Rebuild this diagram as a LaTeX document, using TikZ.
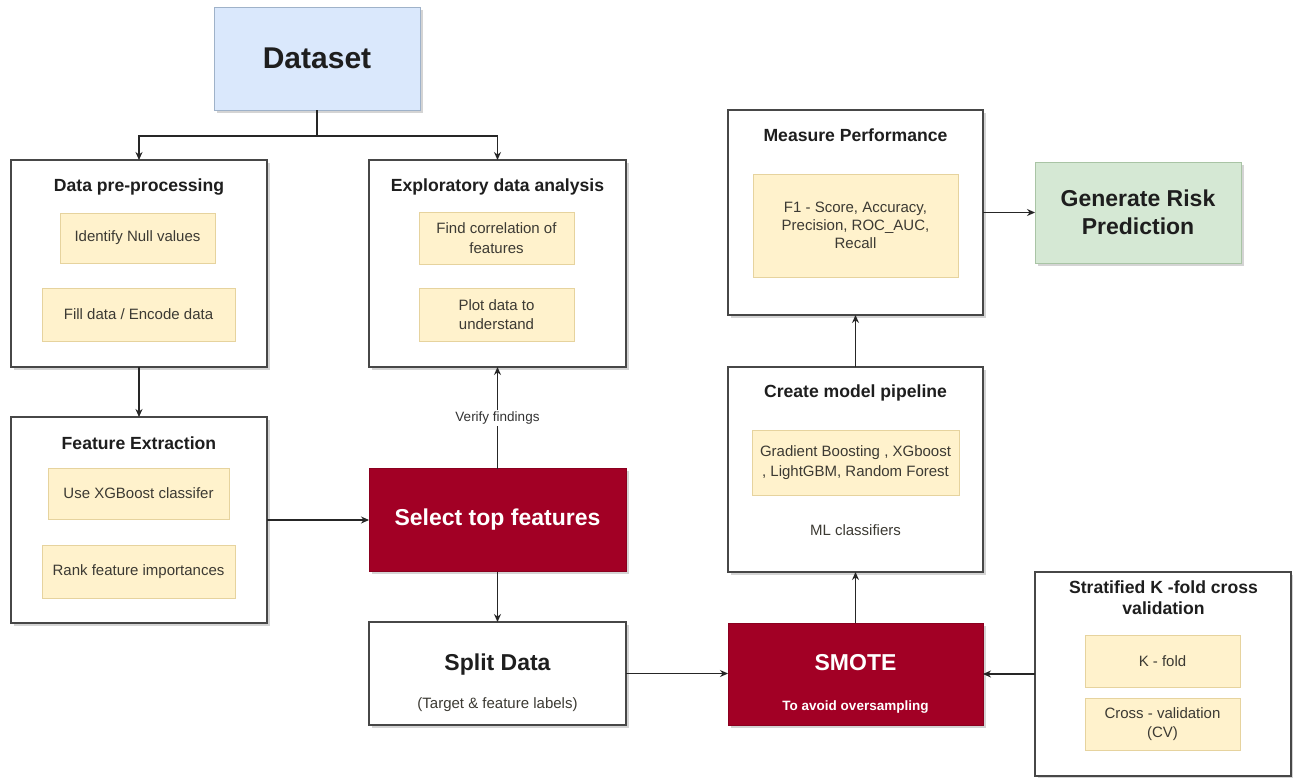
\documentclass[tikz,border=0pt]{standalone}
\usepackage{fontspec}
\setmainfont{Liberation Sans}
\usetikzlibrary{arrows.meta,shadows}
\definecolor{yfill}{HTML}{FFF2CC}
\definecolor{ydraw}{HTML}{E6D39E}
\definecolor{rfill}{HTML}{A20025}
\definecolor{rdraw}{HTML}{8A001F}
\definecolor{gfill}{HTML}{D5E8D4}
\definecolor{gdraw}{HTML}{A9C4A5}
\definecolor{bfill}{HTML}{DAE8FC}
\definecolor{bdraw}{HTML}{9FB2C9}
\definecolor{txt}{HTML}{1E1E1E}
\definecolor{ytxt}{HTML}{3C3A33}
\newcommand\ftitle{\fontsize{17.6}{21}\selectfont\bfseries}
\newcommand\fbody{\fontsize{15}{19.5}\selectfont}
\newcommand\fbig{\fontsize{23}{28}\selectfont\bfseries}
\newcommand\fhuge{\fontsize{30}{34}\selectfont\bfseries}
\newcommand\fsmall{\fontsize{13.5}{16}\selectfont}
\begin{document}
\begin{tikzpicture}[x=1pt,y=-1pt,
  every node/.style={inner sep=0pt, outer sep=0pt},
  shad/.style={drop shadow={shadow xshift=2.5pt, shadow yshift=-2.5pt, opacity=0.3, fill=black!55}},
  outer/.style={draw=black!72, line width=1.4pt, fill=white, shad},
  yel/.style={draw=ydraw, line width=0.7pt, fill=yfill, text=ytxt, font=\fbody, align=center},
  red/.style={draw=rdraw, line width=0.8pt, fill=rfill, text=white, align=center, shad},
  title/.style={font=\ftitle, text=txt, align=center},
  arr/.style={-{Stealth[length=8pt,width=7pt]}, line width=1.1pt, draw=black!85},
  sz/.style 2 args={minimum width=#1pt, minimum height=#2pt}]
\fill[white] (0,0) rectangle (1293,777);
\useasboundingbox (0,0) rectangle (1293,777);

% Dataset
\node[draw=bdraw, line width=1pt, fill=bfill, shad, sz={206}{103}, font=\fhuge, text=txt] (ds) at (317,58.5) {Dataset};

% Data pre-processing
\node[outer, sz={256}{207}] (pre) at (139,263.5) {};
\node[title] (pret) at (139,187) {Data pre-processing};
\node[yel, sz={155}{50}] (pre1) at (137.5,238) {Identify Null values};
\node[yel, sz={193}{53}] (pre2) at (138.5,314.5) {Fill data / Encode data};

% Exploratory data analysis
\node[outer, sz={257}{207}] (eda) at (497.5,263.5) {};
\node[title] (edat) at (497.5,187) {Exploratory data analysis};
\node[yel, sz={155}{52}] (eda1) at (496.5,238) {Find correlation of\\features};
\node[yel, sz={155}{53}] (eda2) at (496.5,314.5) {Plot data to\\understand};

% Feature extraction
\node[outer, sz={256}{206}] (fe) at (139,520) {};
\node[title] (fet) at (139,443) {Feature Extraction};
\node[yel, sz={181}{51}] (fe1) at (138.5,493.5) {Use XGBoost classifer};
\node[yel, sz={193}{53}] (fe2) at (138.5,571.5) {Rank feature importances};

% Select top features
\node[red, sz={257}{103}, font=\fbig] (sel) at (497.5,520) {Select top features};

% Split data
\node[outer, sz={257}{103}] (split) at (497.5,673.5) {};
\node[font=\fbig, text=txt] (splitt) at (497.5,665) {Split Data};
\node[font=\fbody, text=ytxt] (splits) at (497.5,705) {(Target \& feature labels)};

% SMOTE
\node[red, sz={255}{102}] (smote) at (855.5,674) {};
\node[font=\fbig, text=white] (smotet) at (855.5,663) {SMOTE};
\node[font=\fsmall\bfseries, text=white] (smotes) at (855.5,707) {To avoid oversampling};

% Create model pipeline
\node[outer, sz={255}{205}] (pipe) at (855.5,469.5) {};
\node[title] (pipet) at (855.5,393) {Create model pipeline};
\node[yel, sz={207}{65}] (pipe1) at (855.5,462.5) {Gradient Boosting , XGboost\\, LightGBM, Random Forest};
\node[font=\fbody, text=ytxt] (pipes) at (855.5,530) {ML classifiers};

% Measure performance
\node[outer, sz={255}{205}] (meas) at (855.5,212.5) {};
\node[title] (meast) at (855.5,135) {Measure Performance};
\node[yel, sz={205}{103}, font=\fontsize{15}{18}\selectfont] (meas1) at (855.5,225.5) {F1 - Score, Accuracy,\\Precision, ROC\_AUC,\\Recall};

% Generate risk prediction
\node[draw=gdraw, line width=1pt, fill=gfill, shad, sz={206}{101}, font=\fbig, text=txt, align=center] (gen) at (1138,212.5) {Generate Risk\\Prediction};

% Stratified K-fold
\node[outer, sz={256}{204}] (strat) at (1163,674) {};
\node[title] (stratt) at (1163.5,597.5) {Stratified K -fold cross\\validation};
\node[yel, sz={155}{52}] (strat1) at (1162.5,661) {K - fold};
\node[yel, sz={155}{52}] (strat2) at (1162.5,724) {Cross - validation\\(CV)};

% Connectors
\draw[arr] (ds.south) -- ++(0,26) -| (pre.north);
\draw[arr] (ds.south) -- ++(0,26) -| (eda.north);
\draw[arr] (pre.south) -- (fe.north);
\draw[arr] (fe.east) -- (sel.west);
\draw[arr] (sel.north) -- node[fill=white, font=\fsmall, text=black!80, inner sep=1.5pt] (vf) {Verify findings} (eda.south);
\draw[arr] (sel.south) -- (split.north);
\draw[arr] (split.east) -- (split.east -| smote.west);
\draw[arr] (smote.north) -- (pipe.south);
\draw[arr] (pipe.north) -- (meas.south);
\draw[arr] (meas.east) -- (meas.east -| gen.west);
\draw[arr] (strat.west) -- (strat.west -| smote.east);
\end{tikzpicture}
\end{document}
